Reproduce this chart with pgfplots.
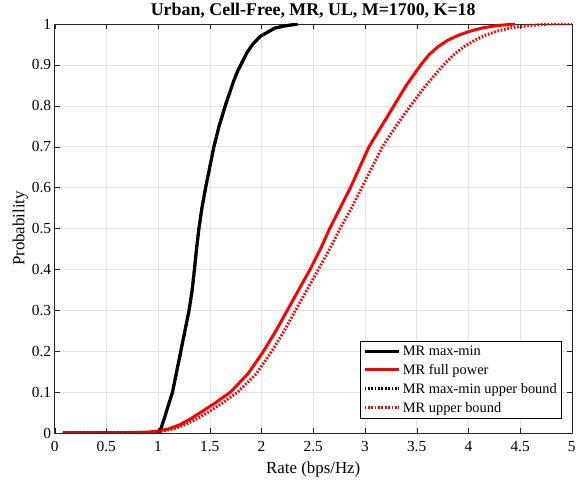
\documentclass[border=0pt]{standalone}
\usepackage{pgfplots}
\pgfplotsset{compat=1.18}
\usepackage{fontspec}
\setmainfont{Liberation Serif}
\begin{document}
\begin{tikzpicture}
\begin{axis}[
  scale only axis,
  width=521pt, height=412pt,
  xmin=0, xmax=5, ymin=0, ymax=1,
  xtick={0,0.5,...,5},
  ytick={0,0.1,...,1},
  xticklabels={0,0.5,1,1.5,2,2.5,3,3.5,4,4.5,5},
  yticklabels={0,0.1,0.2,0.3,0.4,0.5,0.6,0.7,0.8,0.9,1},
  tick align=inside,
  major tick length=5pt,
  grid=major,
  major grid style={black!11},
  axis line style={black!85},
  tick style={black!85},
  ticklabel style={font=\fontsize{15.5}{17}\selectfont},
  xticklabel style={yshift=-5pt},
  xlabel={Rate (bps/Hz)},
  ylabel={Probability},
  label style={font=\fontsize{17}{19}\selectfont},
  title={\textbf{Urban, Cell-Free, MR, UL, M=1700, K=18}},
  title style={font=\fontsize{18}{20}\selectfont, yshift=-4pt},
  xlabel style={yshift=-3pt},
  ylabel style={yshift=-3pt},
  legend style={at={(0.98,0.036)}, anchor=south east,
    font=\fontsize{14.5}{16}\selectfont,
    draw=black, cells={anchor=west}, inner sep=2.5pt, row sep=3.5pt},
  legend image code/.code={\draw[#1] (0pt,0pt) -- (35pt,0pt);},
  every axis plot/.append style={line join=round},
]
\addplot[black, line width=3.2pt] coordinates {
(0.08,0) (1.00,0) (1.02,0.005) (1.04,0.02) (1.06,0.035) (1.09,0.06)
(1.14,0.10) (1.18,0.15) (1.22,0.20) (1.26,0.25) (1.30,0.30) (1.33,0.35)
(1.352,0.40) (1.372,0.45) (1.395,0.50) (1.424,0.55) (1.46,0.60) (1.50,0.65)
(1.54,0.70) (1.59,0.75) (1.65,0.80) (1.69,0.83) (1.73,0.86) (1.77,0.885)
(1.81,0.905) (1.86,0.93) (1.92,0.952) (1.99,0.97) (2.06,0.98) (2.13,0.99)
(2.22,0.995) (2.35,1)
};
\addlegendentry{MR max-min}
\addplot[red, line width=3pt] coordinates {
(0.08,0) (0.60,0) (0.90,0.002) (1.00,0.005) (1.10,0.01) (1.21,0.02)
(1.31,0.034) (1.41,0.05) (1.55,0.073) (1.70,0.10) (1.87,0.145) (2.02,0.20)
(2.14,0.25) (2.25,0.30) (2.36,0.35) (2.47,0.40) (2.57,0.45) (2.66,0.50)
(2.76,0.55) (2.86,0.60) (2.95,0.65) (3.04,0.70) (3.16,0.75) (3.28,0.80)
(3.40,0.85) (3.54,0.90) (3.62,0.925) (3.71,0.945) (3.80,0.96) (3.90,0.972)
(4.01,0.982) (4.15,0.991) (4.28,0.996) (4.45,1)
};
\addlegendentry{MR full power}
\addplot[black, line width=3pt, dash pattern=on 1.7pt off 1.7pt] coordinates {
(0.08,0) (1.00,0) (1.02,0.005) (1.04,0.02) (1.06,0.035) (1.09,0.06)
(1.14,0.10) (1.18,0.15) (1.22,0.20) (1.26,0.25) (1.30,0.30) (1.33,0.35)
(1.352,0.40) (1.372,0.45) (1.395,0.50) (1.424,0.55) (1.46,0.60) (1.50,0.65)
(1.54,0.70) (1.59,0.75) (1.65,0.80) (1.69,0.83) (1.73,0.86) (1.77,0.885)
(1.81,0.905) (1.86,0.93) (1.92,0.952) (1.99,0.97) (2.06,0.98) (2.13,0.99)
(2.22,0.995) (2.35,1)
};
\addlegendentry{MR max-min upper bound}
\addplot[red, line width=3pt, dash pattern=on 1.7pt off 1.7pt] coordinates {
(0.08,0) (0.65,0) (0.95,0.002) (1.05,0.005) (1.15,0.01) (1.26,0.02)
(1.37,0.034) (1.48,0.05) (1.62,0.073) (1.77,0.10) (1.95,0.145) (2.10,0.20)
(2.22,0.25) (2.33,0.30) (2.44,0.35) (2.55,0.40) (2.66,0.45) (2.76,0.50)
(2.87,0.55) (2.97,0.60) (3.07,0.65) (3.17,0.70) (3.30,0.75) (3.44,0.80)
(3.59,0.85) (3.76,0.90) (3.86,0.925) (3.96,0.945) (4.06,0.96) (4.16,0.972)
(4.27,0.982) (4.42,0.991) (4.58,0.996) (4.78,1) (5,1)
};
\addlegendentry{MR upper bound}
\end{axis}
\path (current axis.south west) ++(-55pt,-53pt);
\end{tikzpicture}
\end{document}
